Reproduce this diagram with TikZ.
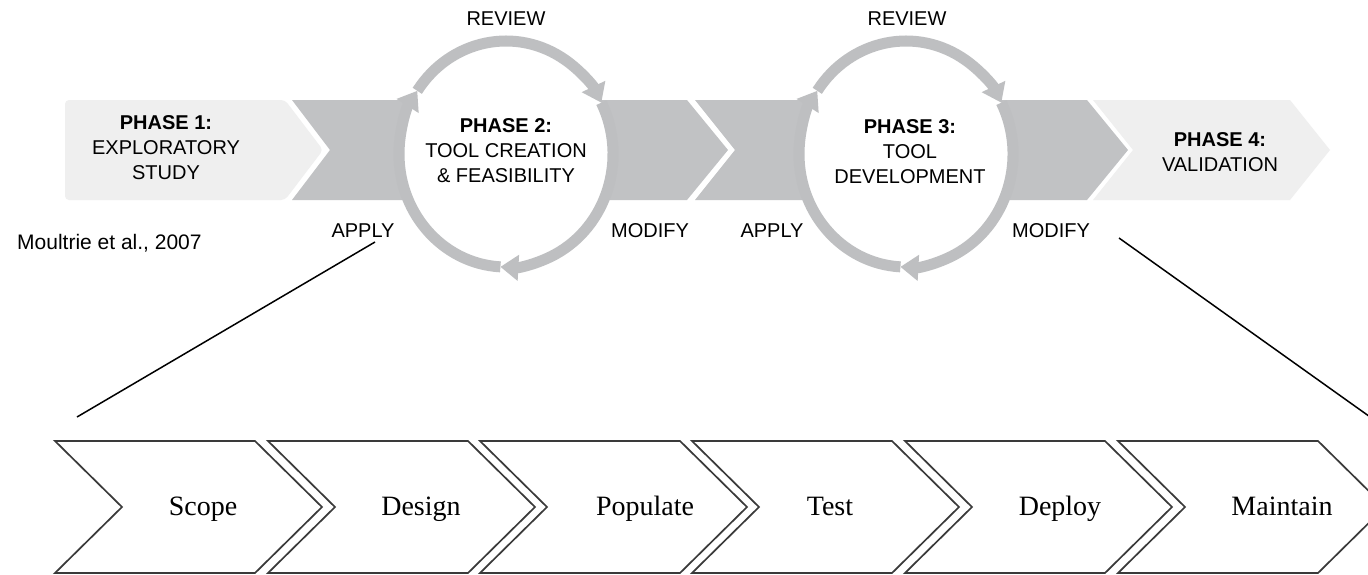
\documentclass[tikz,border=0pt]{standalone}
\usepackage{fontspec}
\setmainfont{Liberation Serif}
\newfontfamily\lsans{Liberation Sans}
\usetikzlibrary{arrows.meta,shapes.geometric}
\definecolor{lightbox}{HTML}{EFEFEF}
\definecolor{darkband}{HTML}{C1C2C4}
\definecolor{ringc}{HTML}{BEBFC1}
\definecolor{chevline}{HTML}{3A3A3A}
\newcommand\chevshape[4]{%
  \draw[chevbox] (#1,441) -- ++(200,0) -- ++(67,66) -- ++(-67,66) -- ++(-200,0) -- ++(67,-66) -- cycle;
  \node[chevtext] (#2) at (#3,515) {#4};}
\begin{document}
\begin{tikzpicture}[x=1pt,y=-1pt,
  phtext/.style={font=\lsans\fontsize{20}{25}\selectfont, align=center, inner sep=0pt, anchor=north},
  lbl/.style={font=\lsans\fontsize{20}{24}\selectfont, inner sep=0pt, anchor=base},
  ring/.style={draw=ringc, line width=11pt, -{Triangle[width=25pt,length=18pt]}},
  chevbox/.style={draw=chevline, line width=1.7pt, fill=white, line join=miter},
  chevtext/.style={font=\fontsize{28}{30}\selectfont, inner sep=0pt, anchor=base},
  leader/.style={draw=black, line width=1.5pt},
  circ/.style={ellipse, fill=white, minimum width=214pt, minimum height=226pt, inner sep=0pt}
]
\useasboundingbox (0,0) rectangle (1368,574);
\clip (0,0) rectangle (1368,574);
\fill[white] (0,0) rectangle (1368,574);

% top band
\fill[lightbox, rounded corners=4pt] (65,100) -- (285,100) -- (323,150) -- (285,200) -- (65,200) -- cycle;
\fill[darkband] (292,100) -- (687,100) -- (728,150) -- (687,200) -- (292,200) -- (330,150) -- cycle;
\fill[darkband] (695,100) -- (1087,100) -- (1128,150) -- (1087,200) -- (695,200) -- (735,150) -- cycle;
\fill[lightbox] (1093,100) -- (1290,100) -- (1330,150) -- (1290,200) -- (1093,200) -- (1133,150) -- cycle;

% circles
\node[circ] (c1) at (506,154) {};
\node[circ] (c2) at (906,154) {};
\foreach \c in {c1,c2}{
  \draw[ring] (\c.center) ++(333:107 and 113) arc[start angle=333, end angle=453, x radius=107, y radius=113];
  \draw[ring] (\c.center) ++(93:107 and 113) arc[start angle=93, end angle=214, x radius=107, y radius=113];
  \draw[ring] (\c.center) ++(214:107 and 113) arc[start angle=214, end angle=333, x radius=107, y radius=113];
}

% phase texts
\node[phtext] (p1) at (166,115) {\textbf{PHASE 1:}\\EXPLORATORY\\STUDY};
\node[phtext] (p2) at (506,118) {\textbf{PHASE 2:}\\TOOL CREATION\\\& FEASIBILITY};
\node[phtext] (p3) at (910,119) {\textbf{PHASE 3:}\\TOOL\\DEVELOPMENT};
\node[phtext] (p4) at (1220,132) {\textbf{PHASE 4:}\\VALIDATION};

% labels
\node[lbl] (rev1) at (506,25) {REVIEW};
\node[lbl] (rev2) at (907,25) {REVIEW};
\node[lbl] (app1) at (363,237) {APPLY};
\node[lbl] (mod1) at (650,237) {MODIFY};
\node[lbl] (app2) at (772,237) {APPLY};
\node[lbl] (mod2) at (1051,237) {MODIFY};
\node[font=\lsans\fontsize{21}{24}\selectfont, inner sep=0pt, anchor=base west] (ref) at (17,249) {Moultrie et al., 2007};

% bottom chevrons
\chevshape{55}{scope}{203}{Scope}
\chevshape{268}{design}{421}{Design}
\chevshape{480}{populate}{645}{Populate}
\chevshape{692}{test}{830}{Test}
\chevshape{905}{deploy}{1060}{Deploy}
\chevshape{1118}{maintain}{1282}{Maintain}

% leader lines
\coordinate (la) at (375,242);
\coordinate (lb) at (77,417);
\coordinate (ra) at (1119,238);
\coordinate (rb) at (1380,424);
\draw[leader] (la) -- (lb);
\draw[leader] (ra) -- (rb);
\end{tikzpicture}
\end{document}
